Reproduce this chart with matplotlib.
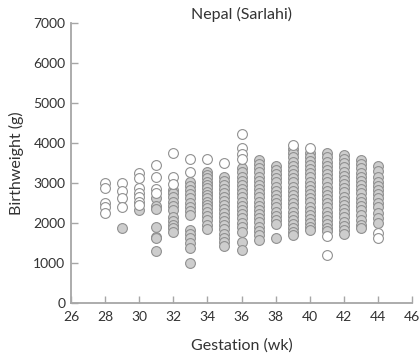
import matplotlib
matplotlib.use("Agg")
import matplotlib.pyplot as plt

plt.rcParams['font.family'] = ['Lato', 'DejaVu Sans']

# Gestational age (completed weeks) for each column of points
weeks = [28, 29, 30, 31, 32, 33, 34, 35, 36, 37, 38, 39, 40, 41, 42, 43, 44]

# Birthweights (g) drawn as open circles, one list per week
open_bw = [
    [3010, 2870, 2510, 2390, 2240],
    [3010, 2800, 2630, 2410],
    [3240, 3120, 2870, 2760, 2640, 2530, 2450],
    [3450, 3160, 2850, 2740],
    [3760, 3160, 2980],
    [3590, 3280],
    [3590],
    [3510],
    [4230, 3870, 3730, 3600],
    [],
    [],
    [3950],
    [3870],
    [1680, 1200],
    [],
    [],
    [1760, 1640],
]

# Birthweights (g) drawn as grey filled circles, one list per week
filled_bw = [
    [],
    [1870],
    [2330],
    [2620, 2430, 2350, 1890, 1650, 1620, 1310],
    [2830, 2740, 2640, 2530, 2430, 2330, 2140, 2050, 1950, 1870, 1780],
    [3030, 2930, 2830, 2730, 2620, 2510, 2410, 2300, 2200,
     1830, 1720, 1620, 1510, 1390, 1010],
    [3280, 3200, 3120, 3030, 2950, 2870, 2780, 2700, 2620, 2530,
     2450, 2370, 2280, 2180, 2080, 1950, 1840],
    [3140, 3040, 2940, 2840, 2740, 2640, 2540, 2440, 2340, 2240,
     2140, 2040, 1940, 1840, 1740, 1640, 1530, 1430],
    [3370, 3270, 3160, 3060, 2950, 2850, 2740, 2640, 2530, 2430,
     2330, 2230, 2120, 2010, 1910, 1780, 1530, 1340],
    [3580, 3480, 3370, 3270, 3160, 3060, 2950, 2850, 2740, 2640,
     2530, 2430, 2330, 2230, 2120, 2020, 1910, 1810, 1700, 1590],
    [3430, 3330, 3230, 3120, 3020, 2910, 2810, 2700, 2600, 2490,
     2390, 2280, 2180, 2080, 1980, 1620],
    [3840, 3740, 3640, 3530, 3430, 3330, 3230, 3120, 3020, 2910,
     2810, 2700, 2600, 2490, 2390, 2280, 2180, 2080, 1980, 1870,
     1770, 1700],
    [3760, 3660, 3560, 3450, 3350, 3240, 3140, 3030, 2930, 2830,
     2730, 2620, 2520, 2410, 2310, 2200, 2100, 1990, 1890, 1830],
    [3740, 3640, 3530, 3430, 3330, 3230, 3120, 3020, 2910, 2810,
     2700, 2600, 2490, 2390, 2280, 2180, 2080, 1980, 1870, 1810],
    [3700, 3600, 3490, 3390, 3280, 3180, 3080, 2980, 2870, 2770,
     2660, 2560, 2450, 2350, 2240, 2140, 2030, 1930, 1830, 1740],
    [3580, 3470, 3370, 3260, 3160, 3050, 2950, 2840, 2740, 2630,
     2530, 2430, 2330, 2200, 2080, 1950, 1870],
    [3430, 3310, 3140, 3030, 2930, 2830, 2730, 2620, 2510, 2390,
     2240, 2120, 1990],
]

x_ticks = list(range(26, 47, 2))
y_ticks = list(range(0, 7001, 1000))

fig = plt.figure(figsize=(4.2, 3.6), dpi=100)
ax = fig.add_axes([0.169, 0.158, 0.812, 0.778])

for wk, vals in zip(weeks, filled_bw):
    ax.scatter([wk] * len(vals), vals, s=50, facecolor='#cdcdcd',
               edgecolor='#909090', linewidth=0.8, zorder=2)
for wk, vals in zip(weeks, open_bw):
    ax.scatter([wk] * len(vals), vals, s=50, facecolor='white',
               edgecolor='#909090', linewidth=0.8, zorder=3)

ax.set_xlim(26, 46)
ax.set_ylim(0, 7000)
ax.set_xticks(x_ticks)
ax.set_yticks(y_ticks)

for side in ['top', 'right']:
    ax.spines[side].set_visible(False)
for side in ['left', 'bottom']:
    ax.spines[side].set_color('#a6a6a6')
    ax.spines[side].set_linewidth(1.3)

ax.tick_params(direction='in', length=5, width=1, color='#a6a6a6',
               labelsize=10, labelcolor='#333333')
ax.tick_params(axis='x', pad=6)
ax.tick_params(axis='y', pad=4)

ax.set_title('Nepal (Sarlahi)', fontsize=11.5, color='#333333', pad=3)
ax.set_xlabel('Gestation (wk)', fontsize=11.5, color='#333333', labelpad=11)
ax.set_ylabel('Birthweight (g)', fontsize=11.5, color='#333333', labelpad=7)

fig.savefig('out.png', dpi=100)
